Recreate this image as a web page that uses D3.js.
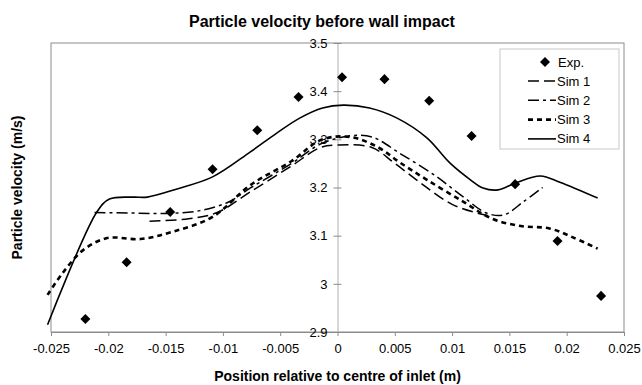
<!DOCTYPE html>
<html>
<head>
<meta charset="utf-8">
<script src="https://cdn.jsdelivr.net/npm/d3@7"></script>
<style>
  body { margin: 0; background: #fff; }
  text { font-family: "Liberation Sans", Arial, sans-serif; fill: #000; }
</style>
</head>
<body>
<div id="chart"></div>
<script>
// experimental points
var expX = [-0.0220, -0.0184, -0.0146, -0.0109, -0.0070, -0.0034, 0.0004, 0.0041, 0.0080, 0.0117, 0.0155, 0.0192, 0.0230];
var expY = [2.927, 3.045, 3.149, 3.238, 3.319, 3.388, 3.429, 3.425, 3.380, 3.307, 3.207, 3.089, 2.975];

// simulations
var sim1X = [-0.0164, -0.013, -0.0105, -0.0076, -0.004, -0.0015, 0, 0.003, 0.005, 0.0075, 0.010, 0.0125, 0.0135];
var sim1Y = [3.130, 3.135, 3.148, 3.191, 3.245, 3.283, 3.288, 3.283, 3.250, 3.205, 3.165, 3.145, 3.140];

var sim2X = [-0.0212, -0.018, -0.015, -0.012, -0.0095, -0.0076, -0.004, -0.0015, 0.001, 0.003, 0.0055, 0.0085, 0.011, 0.013, 0.0145, 0.0162, 0.0179];
var sim2Y = [3.148, 3.147, 3.146, 3.152, 3.170, 3.199, 3.250, 3.290, 3.307, 3.305, 3.270, 3.225, 3.180, 3.147, 3.143, 3.170, 3.200];

var sim3X = [-0.0253, -0.024, -0.0222, -0.0201, -0.0172, -0.0144, -0.0109, -0.0076, -0.004, -0.0014, 0.0011, 0.0035, 0.0055, 0.0078, 0.011, 0.0135, 0.016, 0.0185, 0.0205, 0.0227];
var sim3Y = [2.977, 3.022, 3.070, 3.095, 3.093, 3.108, 3.139, 3.205, 3.255, 3.299, 3.305, 3.284, 3.251, 3.216, 3.170, 3.135, 3.120, 3.115, 3.097, 3.073];

var sim4X = [-0.0253, -0.021, -0.0199, -0.0178, -0.0166, -0.014, -0.0109, -0.0076, -0.0053, -0.0033, -0.0013, 0.0005, 0.0028, 0.0052, 0.0078, 0.0098, 0.0116, 0.0127, 0.014, 0.0155, 0.0177, 0.0194, 0.0227];
var sim4Y = [2.915, 3.149, 3.176, 3.180, 3.180, 3.197, 3.222, 3.274, 3.313, 3.344, 3.365, 3.371, 3.365, 3.344, 3.303, 3.251, 3.216, 3.199, 3.195, 3.209, 3.224, 3.211, 3.178];

var xTicks = [-0.025, -0.02, -0.015, -0.01, -0.005, 0, 0.005, 0.01, 0.015, 0.02, 0.025];
var yTicks = [2.9, 3, 3.1, 3.2, 3.3, 3.4, 3.5];

var svgWidth = 642;
var svgHeight = 385;
var margin = { top: 43, right: 18, bottom: 53, left: 51 };
var chartWidth = svgWidth - margin.left - margin.right;
var chartHeight = svgHeight - margin.top - margin.bottom;

var svg = d3.select('#chart').append('svg')
  .attr('width', svgWidth)
  .attr('height', svgHeight);

var chartGroup = svg.append('g')
  .attr('transform', `translate(${margin.left}, ${margin.top})`);

var xScale = d3.scaleLinear().domain([-0.025, 0.025]).range([0, chartWidth]);
var yScale = d3.scaleLinear().domain([2.9, 3.5]).range([chartHeight, 0]);

// plot frame
chartGroup.append('rect')
  .attr('width', chartWidth)
  .attr('height', chartHeight)
  .attr('fill', 'none')
  .attr('stroke', '#8c8c8c')
  .attr('stroke-width', 1);

// x axis
var xAxis = chartGroup.append('g')
  .attr('transform', `translate(0, ${chartHeight})`)
  .call(d3.axisBottom(xScale).tickValues(xTicks).tickSize(4).tickSizeOuter(0)
    .tickFormat(d => d === 0 ? '0' : String(+d.toFixed(3))));
xAxis.select('.domain').attr('stroke', '#8c8c8c');
xAxis.selectAll('.tick line').attr('stroke', '#8c8c8c');
xAxis.selectAll('text')
  .attr('y', 9)
  .attr('dy', '0.95em')
  .style('font-size', '13px');

// y axis at zero
var yAxis = chartGroup.append('g')
  .attr('transform', `translate(${xScale(0)}, 0)`)
  .call(d3.axisLeft(yScale).tickValues(yTicks).tickSize(4).tickSizeOuter(0)
    .tickFormat(d => String(+d.toFixed(1))));
yAxis.select('.domain').attr('stroke', '#b0b0b0');
yAxis.selectAll('.tick line').attr('stroke', '#8c8c8c').attr('x2', 4).attr('x1', -4);
yAxis.selectAll('text')
  .attr('x', -10)
  .style('font-size', '13px');

// lines
var line = d3.line()
  .x(d => xScale(d[0]))
  .y(d => yScale(d[1]))
  .curve(d3.curveCatmullRom.alpha(0.5));

var sims = [
  { name: 'Sim 1', xs: sim1X, ys: sim1Y, dash: '11,5', width: 1.5 },
  { name: 'Sim 2', xs: sim2X, ys: sim2Y, dash: '11,4,3,4', width: 1.5 },
  { name: 'Sim 3', xs: sim3X, ys: sim3Y, dash: '5,4', width: 2.6 },
  { name: 'Sim 4', xs: sim4X, ys: sim4Y, dash: null, width: 1.6 }
];

sims.forEach(function(s) {
  var pts = s.xs.map((x, i) => [x, s.ys[i]]);
  chartGroup.append('path')
    .datum(pts)
    .attr('d', line)
    .attr('fill', 'none')
    .attr('stroke', '#000')
    .attr('stroke-width', s.width)
    .attr('stroke-dasharray', s.dash);
});

// experimental diamonds
var diamond = d3.symbol().type(d3.symbolDiamond2).size(64);
chartGroup.selectAll('.exp')
  .data(expX.map((x, i) => [x, expY[i]]))
  .enter()
  .append('path')
  .attr('class', 'exp')
  .attr('d', diamond)
  .attr('transform', d => `translate(${xScale(d[0])}, ${yScale(d[1])})`)
  .attr('fill', '#000');

// legend
var legend = svg.append('g').attr('transform', 'translate(500, 49)');
legend.append('rect')
  .attr('width', 119)
  .attr('height', 100)
  .attr('fill', '#fff')
  .attr('stroke', '#c8c8c8');

legend.append('path')
  .attr('d', diamond)
  .attr('transform', 'translate(45, 13)')
  .attr('fill', '#000');
legend.append('text')
  .attr('x', 58).attr('y', 13)
  .attr('dy', '0.35em')
  .style('font-size', '13px')
  .text('Exp.');

sims.forEach(function(s, i) {
  var y = 32 + i * 19.3;
  legend.append('line')
    .attr('x1', 28).attr('x2', 56)
    .attr('y1', y).attr('y2', y)
    .attr('stroke', '#000')
    .attr('stroke-width', s.width)
    .attr('stroke-dasharray', s.dash);
  legend.append('text')
    .attr('x', 57).attr('y', y)
    .attr('dy', '0.35em')
    .style('font-size', '13px')
    .text(s.name);
});

// titles
svg.append('text')
  .attr('x', 322).attr('y', 27)
  .attr('text-anchor', 'middle')
  .style('font-size', '16px')
  .style('font-weight', 'bold')
  .text('Particle velocity before wall impact');

svg.append('text')
  .attr('x', margin.left + chartWidth / 2).attr('y', 381)
  .attr('text-anchor', 'middle')
  .style('font-size', '14px')
  .style('font-weight', 'bold')
  .text('Position relative to  centre of inlet (m)');

svg.append('text')
  .attr('transform', `translate(22, ${margin.top + chartHeight / 2}) rotate(-90)`)
  .attr('text-anchor', 'middle')
  .style('font-size', '14px')
  .style('font-weight', 'bold')
  .text('Particle velocity (m/s)');
</script>
</body>
</html>
